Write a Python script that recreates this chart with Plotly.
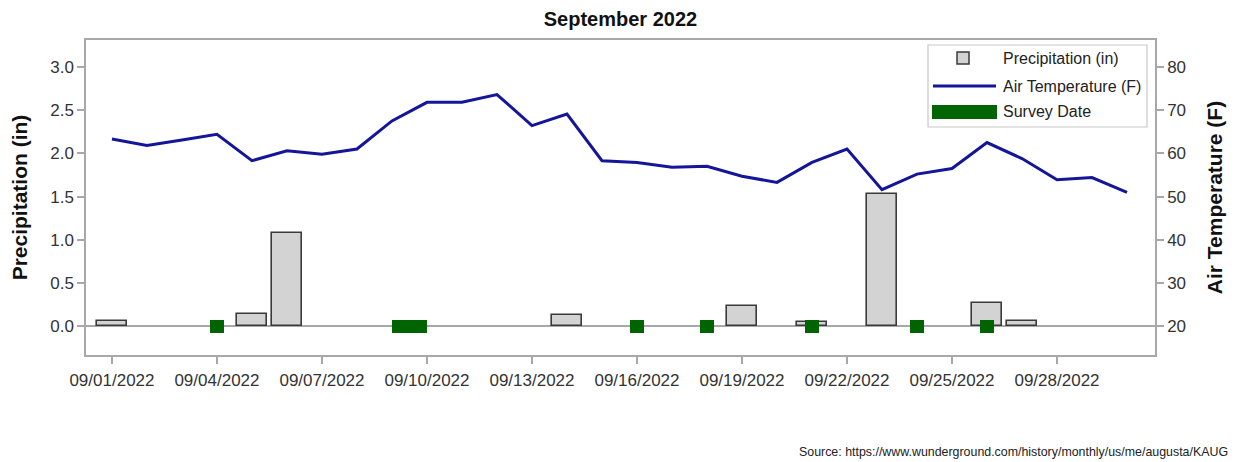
import plotly.graph_objects as go
import pandas as pd

# ---------------- data ----------------
dates = pd.date_range("2022-09-01", "2022-09-30", freq="D")
temperature_f = [63.3, 61.8, 63.1, 64.4, 58.3, 60.6, 59.8, 61.0, 67.5, 71.8,
                 71.8, 73.6, 66.4, 69.1, 58.3, 57.9, 56.8, 57.0, 54.7, 53.3,
                 57.9, 61.0, 51.6, 55.2, 56.5, 62.5, 58.8, 53.9, 54.4, 51.0]

precip_dates = ["2022-09-01", "2022-09-05", "2022-09-06", "2022-09-14", "2022-09-19",
                "2022-09-21", "2022-09-23", "2022-09-26", "2022-09-27"]
precip_in = [0.06, 0.14, 1.08, 0.13, 0.24, 0.05, 1.53, 0.27, 0.06]

survey_dates = ["2022-09-04", "2022-09-09 12:00", "2022-09-16", "2022-09-18",
                "2022-09-21", "2022-09-24", "2022-09-26"]
survey_span_days = [0.4, 1.0, 0.4, 0.4, 0.4, 0.4, 0.4]

tick_dates = pd.date_range("2022-09-01", "2022-09-28", freq="3D")
tick_labels = [d.strftime("%m/%d/%Y") for d in tick_dates]

DAY_MS = 86400000

# ---------------- geometry helpers ----------------
W, H = 1239, 462
L, R, T, B = 86, 1155, 40, 355   # plot area in pixels


def px(x):
    return (x - L) / (R - L)


def py(y):
    return (B - y) / (B - T)


fig = go.Figure()

fig.add_trace(go.Bar(
    x=precip_dates, y=precip_in, width=[0.85 * DAY_MS] * len(precip_in),
    marker=dict(color="#d3d3d3", line=dict(color="#3a3a3a", width=1.6)),
    name="Precipitation (in)", yaxis="y", showlegend=False,
))

fig.add_trace(go.Bar(
    x=survey_dates, y=[0.16] * len(survey_dates), base=[-0.08] * len(survey_dates),
    width=[w * DAY_MS for w in survey_span_days],
    marker=dict(color="#006400", line=dict(width=0)),
    name="Survey Date", yaxis="y", showlegend=False,
))

fig.add_trace(go.Scatter(
    x=dates, y=temperature_f, mode="lines",
    line=dict(color="#15159a", width=3),
    name="Air Temperature (F)", yaxis="y2", showlegend=False,
))

axis_gray = "#a8a8a8"
tick_font = dict(family="Liberation Sans, Arial, sans-serif", size=17, color="#333333")
title_font = dict(family="Liberation Sans, Arial, sans-serif", size=21, color="#111111")

fig.update_layout(
    width=W, height=H,
    margin=dict(l=L, r=W - R, t=T, b=H - B, pad=0, autoexpand=False),
    paper_bgcolor="white", plot_bgcolor="white",
    barmode="overlay",
    bargap=0,
    showlegend=False,
    title=dict(text="<b>September 2022</b>", x=(L + R) / 2 / W, xanchor="center",
               y=1 - 19 / H, yanchor="middle",
               font=dict(family="Liberation Sans, Arial, sans-serif", size=20, color="#111111")),
    xaxis=dict(
        type="date", automargin=False,
        range=[pd.Timestamp("2022-09-01") - pd.Timedelta(hours=17.8),
               pd.Timestamp("2022-09-30") + pd.Timedelta(hours=19.2)],
        tickvals=tick_dates, ticktext=tick_labels,
        ticks="outside", ticklen=7, tickcolor=axis_gray, tickwidth=1.5,
        ticklabelstandoff=2,
        showline=True, linecolor=axis_gray, linewidth=1.5, mirror=True,
        showgrid=False, zeroline=False, tickfont=tick_font,
    ),
    yaxis=dict(
        range=[-0.33, 3.31], automargin=False,
        tickvals=[0, 0.5, 1.0, 1.5, 2.0, 2.5, 3.0],
        ticktext=["0.0", "0.5", "1.0", "1.5", "2.0", "2.5", "3.0"],
        ticks="outside", ticklen=7, tickcolor=axis_gray, tickwidth=1.5,
        showline=True, linecolor=axis_gray, linewidth=1.5,
        showgrid=False, zeroline=True, zerolinecolor=axis_gray, zerolinewidth=1.5,
        tickfont=tick_font,
        title=dict(text="<b>Precipitation (in)</b>", font=title_font, standoff=17),
    ),
    yaxis2=dict(
        range=[13.4, 86.2], overlaying="y", side="right", automargin=False,
        tickvals=[20, 30, 40, 50, 60, 70, 80],
        ticks="outside", ticklen=7, tickcolor=axis_gray, tickwidth=1.5,
        showline=True, linecolor=axis_gray, linewidth=1.5,
        showgrid=False, zeroline=False, tickfont=tick_font,
        title=dict(text="<b>Air Temperature (F)</b>", font=title_font, standoff=22),
    ),
)

# ---------------- manual legend ----------------
shapes = [
    dict(type="rect", xref="paper", yref="paper", x0=px(928), x1=px(1147), y0=py(127), y1=py(45),
         line=dict(color="#c8c8c8", width=1.2), fillcolor="white", layer="above"),
    dict(type="rect", xref="paper", yref="paper", x0=px(957), x1=px(969), y0=py(64), y1=py(52),
         line=dict(color="#3a3a3a", width=1.5), fillcolor="#d3d3d3", layer="above"),
    dict(type="line", xref="paper", yref="paper", x0=px(933), x1=px(996), y0=py(86), y1=py(86),
         line=dict(color="#15159a", width=3), layer="above"),
    dict(type="rect", xref="paper", yref="paper", x0=px(932), x1=px(997), y0=py(119), y1=py(105),
         line=dict(width=0), fillcolor="#006400", layer="above"),
]
legend_font = dict(family="Liberation Sans, Arial, sans-serif", size=16, color="#222222")
annotations = []
for text, ypix in [("Precipitation (in)", 58), ("Air Temperature (F)", 86), ("Survey Date", 112)]:
    annotations.append(dict(text=text, xref="paper", yref="paper", x=px(1001), y=py(ypix),
                            xanchor="left", yanchor="middle", showarrow=False, font=legend_font))

annotations.append(dict(
    text="Source: https://www.wunderground.com/history/monthly/us/me/augusta/KAUG",
    xref="paper", yref="paper", x=px(1230), y=py(452), xanchor="right", yanchor="middle",
    showarrow=False, font=dict(family="Liberation Sans Narrow, Liberation Sans, Arial, sans-serif",
                               size=12.4, color="#222222"),
))

fig.update_layout(shapes=shapes, annotations=annotations)

fig.write_html("out.html", config={"displayModeBar": False},
               post_script="document.body.style.margin='0';document.body.style.overflow='hidden';")
